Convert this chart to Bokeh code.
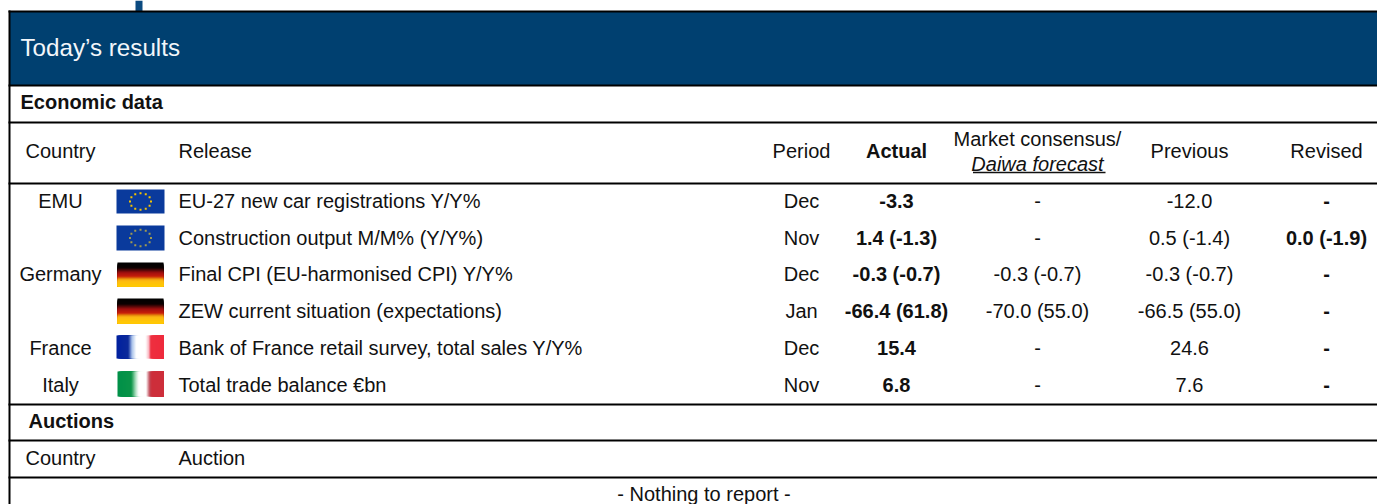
from bokeh.plotting import figure
from bokeh.models import Range1d
from bokeh.core.properties import value
from bokeh.embed import file_html
from bokeh.resources import INLINE
import math

W, H = 1377, 504
FONT = "Liberation Sans"
NAVY = "#004070"

# ---- table content
title = "Today\u2019s results"
section1 = "Economic data"
section2 = "Auctions"
header_labels = ["Country", "Release", "Period", "Actual", "Previous", "Revised"]
consensus_head = ["Market consensus/", "Daiwa forecast"]
countries = ["EMU", "", "Germany", "", "France", "Italy"]
flags = ["eu", "eu2", "de", "de", "fr", "it"]
releases = ["EU-27 new car registrations Y/Y%", "Construction output M/M% (Y/Y%)",
            "Final CPI (EU-harmonised CPI) Y/Y%", "ZEW current situation (expectations)",
            "Bank of France retail survey, total sales Y/Y%", "Total trade balance \u20acbn"]
periods = ["Dec", "Nov", "Dec", "Jan", "Dec", "Nov"]
actual = ["-3.3", "1.4 (-1.3)", "-0.3 (-0.7)", "-66.4 (61.8)", "15.4", "6.8"]
consensus = ["-", "-", "-0.3 (-0.7)", "-70.0 (55.0)", "-", "-"]
previous = ["-12.0", "0.5 (-1.4)", "-0.3 (-0.7)", "-66.5 (55.0)", "24.6", "7.6"]
revised = ["-", "0.0 (-1.9)", "-", "-", "-", "-"]
auction_labels = ["Country", "Auction"]
nothing = "- Nothing to report -"

# ---- layout (pixels of the page)
TS = "20px"
col_country, col_release = 61, 179
col_period, col_actual, col_cons, col_prev, col_rev = 802, 897, 1038, 1190, 1327
row_y = [201, 238, 274, 311, 348, 385]
flag_boxes = [(116, 164, 189, 213), (116, 164, 225, 250), (117, 163, 262, 286),
              (117, 163, 298, 323), (116, 163, 335, 358), (117, 163, 371, 396)]
rules = [11, 85, 122, 183, 404, 440, 477]

p = figure(width=W, height=H, x_range=Range1d(0, W), y_range=Range1d(H, 0),
           output_backend="svg", toolbar_location=None, min_border=0,
           margin=(0, 0, 0, 0), outline_line_color=None, background_fill_color="white",
           x_axis_location=None, y_axis_location=None)
p.xgrid.visible = False
p.ygrid.visible = False


def txt(x, y, s, size=TS, align="center", style="normal", color="#111111"):
    p.text([x - 1], [y - 1], text=[s], text_font=value(FONT), text_font_size=size,
           text_align=align, text_baseline="middle", text_font_style=style,
           text_color=color)


# page stub + banner
p.quad(left=[135], right=[142], top=[0], bottom=[11], fill_color="#0b4a80", line_color=None)
p.quad(left=[9], right=[W + 2], top=[11], bottom=[85], fill_color=NAVY, line_color=None)

# rules and left border
for y in rules:
    p.line([8, W + 2], [y, y], line_color="black", line_width=2)
p.line([9, 9], [10, H + 2], line_color="black", line_width=2)

txt(21, 47.5, title, size="24.2px", align="left", color="#f2f6fa")
txt(21, 102, section1, align="left", style="bold")
txt(29, 421.5, section2, align="left", style="bold")

# header
hy = 151
txt(col_country, hy, header_labels[0])
txt(col_release, hy, header_labels[1], align="left")
txt(col_period, hy, header_labels[2])
txt(col_actual, hy, header_labels[3], style="bold")
txt(col_prev, hy, header_labels[4])
txt(col_rev, hy, header_labels[5])
txt(col_cons, 139, consensus_head[0])
txt(col_cons, 164, consensus_head[1], style="italic")
p.line([972.5, 1105], [172, 172], line_color="#111111", line_width=1.5)

# rows
for i, y in enumerate(row_y):
    if countries[i]:
        txt(col_country, y, countries[i])
    txt(col_release, y, releases[i], align="left")
    txt(col_period, y, periods[i])
    txt(col_actual, y, actual[i], style="bold")
    txt(col_cons, y, consensus[i])
    txt(col_prev, y, previous[i])
    txt(col_rev, y, revised[i], style="bold")


def hex_mix(a, b, t):
    ca = [int(a[k:k + 2], 16) for k in (1, 3, 5)]
    cb = [int(b[k:k + 2], 16) for k in (1, 3, 5)]
    return "#%02x%02x%02x" % tuple(round(u + (v - u) * t) for u, v in zip(ca, cb))


def ramp(stops, t):
    for (t0, c0), (t1, c1) in zip(stops, stops[1:]):
        if t <= t1:
            return hex_mix(c0, c1, (t - t0) / (t1 - t0) if t1 > t0 else 0)
    return stops[-1][1]


DE = [(0, "#000000"), (.22, "#0a0000"), (.42, "#a00f0f"), (.58, "#c81e0a"),
      (.68, "#e8920a"), (.75, "#fdb913"), (1, "#ffcc00")]
FR = [(0, "#00209f"), (.25, "#0c2a9a"), (.33, "#a9c2ea"), (.42, "#ffffff"),
      (.62, "#ffffff"), (.70, "#f7a8b4"), (.72, "#ee3040"), (1, "#ee2a3c")]
IT = [(0, "#009048"), (.30, "#0a9448"), (.40, "#b4e2c6"), (.46, "#ffffff"),
      (.62, "#ffffff"), (.70, "#c04a58"), (.74, "#cd2e3a"), (1, "#cd2e3a")]

for kind, (x0, x1, y0, y1) in zip(flags, flag_boxes):
    if kind in ("eu", "eu2"):
        p.quad(left=[x0], right=[x1], top=[y0], bottom=[y1], fill_color="#0a3a9c", line_color=None)
        cx, cy = (x0 + x1) / 2, (y0 + y1) / 2
        star_color = "#f5c400" if kind == "eu" else "#a09a50"
        sx = [cx + 10.5 * math.cos(math.radians(a)) for a in range(0, 360, 30)]
        sy = [cy + 8.3 * math.sin(math.radians(a)) for a in range(0, 360, 30)]
        p.rect(sx, sy, width=2, height=2, fill_color=star_color, line_color=None)
    elif kind == "de":
        n = y1 - y0
        for k in range(n):
            p.quad(left=[x0], right=[x1], top=[y0 + k], bottom=[y1],
                   fill_color=ramp(DE, (k + .5) / n), line_color=None)
    else:
        st = FR if kind == "fr" else IT
        n = x1 - x0
        for k in range(n):
            p.quad(left=[x0 + k], right=[x1], top=[y0], bottom=[y1],
                   fill_color=ramp(st, (k + .5) / n), line_color=None)

# auctions
txt(col_country, 458.5, auction_labels[0])
txt(col_release, 458.5, auction_labels[1], align="left")
txt(704.5, 494, nothing)

open("out.html", "w").write(file_html(p, INLINE))
